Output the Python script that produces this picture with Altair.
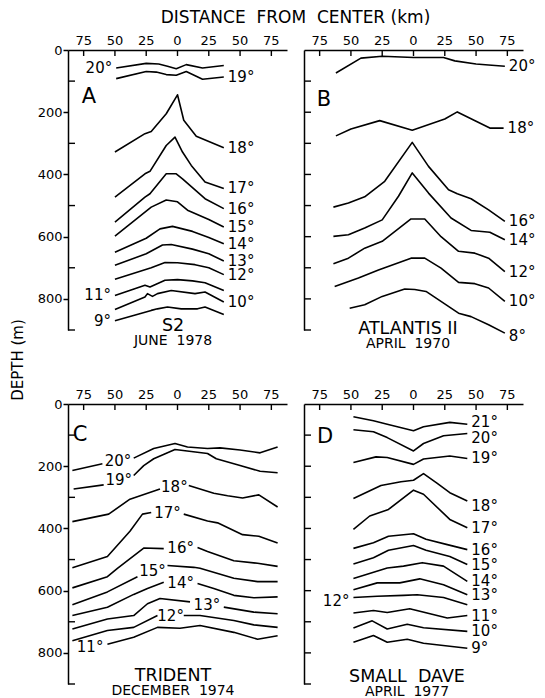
import altair as alt
import pandas as pd

FONT = "DejaVu Sans"
NB = "\u00a0"

# ---------------- axis ticks ----------------
X_TICKS = [-75, -50, -25, 0, 25, 50, 75]
X_TICK_LABELS = ["75", "50", "25", "0", "25", "50", "75"]
Y_LABEL_TICKS = [0, 200, 400, 600, 800]
Y_INNER_TICKS_AC = [100, 300, 500, 700, 900]
Y_INNER_TICKS_BD = [100, 200, 300, 400, 500, 600, 700, 800, 900]

# ---------------- isotherm depths (m) vs distance from center (km) ----------------
A_LINES = {
    "20°": [[(-49, 58), (-25, 43), (-15, 45), (-8, 52), (-1, 60), (7, 47), (20, 58), (37, 50)]],
    "19°": [[(-49, 92), (-25, 69), (-17, 71), (-9, 79), (-1, 81), (7, 69), (20, 94), (37, 87)]],
    "18°": [[(-50, 328), (-26, 269), (-21, 262), (-9, 205), (0, 144), (5, 226), (15, 277), (37, 314)]],
    "17°": [[(-50, 473), (-26, 398), (-22, 390), (-9, 307), (-2, 280), (4, 328), (11, 371), (22, 424), (37, 445)]],
    "16°": [[(-50, 553), (-26, 473), (-22, 462), (-9, 398), (-1, 398), (4, 414), (22, 478), (37, 510)]],
    "15°": [[(-50, 598), (-21, 505), (-9, 482), (0, 488), (8, 515), (25, 545), (37, 569)]],
    "14°": [[(-50, 650), (-25, 605), (-14, 575), (-4, 567), (12, 583), (25, 603), (37, 623)]],
    "13°": [[(-50, 692), (-25, 655), (-12, 627), (-5, 625), (12, 640), (25, 655), (37, 678)]],
    "12°": [[(-50, 737), (-21, 700), (-10, 683), (0, 684), (14, 690), (25, 700), (37, 722)]],
    "11°": [[(-50, 789), (-26, 756), (-22, 762), (-10, 740), (0, 738), (12, 742), (22, 748), (37, 773)]],
    "10°": [[(-50, 834), (-26, 794), (-24, 783), (-20, 792), (-16, 783), (-5, 773), (14, 783), (22, 778), (37, 810)]],
    "9°": [[(-50, 870), (-21, 837), (-16, 832), (-8, 826), (3, 832), (16, 832), (22, 826), (37, 850)]],
}
A_SIDES = {"20°": "left", "19°": "right", "18°": "right", "17°": "right", "16°": "right",
           "15°": "right", "14°": "right", "13°": "right", "12°": "right", "11°": "left",
           "10°": "right", "9°": "left"}
A_SHIFT = {}

B_LINES = {
    "20°": [[(-62, 74), (-42, 26), (-25, 20), (0, 24), (24, 24), (33, 35), (50, 45), (60, 48), (73, 52)]],
    "18°": [[(-62, 276), (-50, 254), (-27, 227), (-1, 258), (25, 222), (35, 199), (61, 251), (72, 251)]],
    "16°": [[(-64, 505), (-52, 492), (-39, 472), (-23, 422), (-1, 297), (12, 374), (28, 449), (35, 462),
             (46, 478), (60, 514), (73, 551)]],
    "14°": [[(-64, 599), (-52, 594), (-39, 572), (-25, 546), (-12, 470), (-1, 395), (12, 460), (30, 540),
             (46, 580), (61, 586), (73, 610)]],
    "12°": [[(-64, 687), (-52, 669), (-39, 637), (-25, 615), (-2, 543), (9, 543), (22, 600), (36, 647),
             (49, 653), (60, 669), (73, 712)]],
    "10°": [[(-63, 760), (-44, 733), (-28, 707), (-2, 669), (9, 669), (22, 701), (36, 747), (49, 751),
             (60, 765), (73, 808)]],
    "8°": [[(-51, 830), (-39, 819), (-25, 792), (-7, 768), (1, 770), (10, 776), (36, 846), (46, 857),
            (60, 883), (73, 910)]],
}
B_SIDES = {k: "right" for k in B_LINES}
B_SHIFT = {"8°": 8}

C_LINES = {
    "20°": [[(-84, 214), (-60, 192)],
            [(-35, 174), (-19, 143), (-2, 127), (8, 138), (24, 143), (34, 141), (50, 148), (66, 157), (80, 138)]],
    "19°": [[(-83, 273), (-59, 260)],
            [(-35, 230), (-27, 198), (-19, 176), (-2, 146), (24, 159), (31, 176), (50, 198), (66, 216), (80, 221)]],
    "18°": [[(-84, 378), (-55, 354), (-38, 306), (-14, 273)],
            [(9, 262), (29, 287), (40, 295), (52, 302), (65, 292), (80, 331)]],
    "17°": [[(-84, 526), (-56, 490), (-38, 409), (-28, 354), (-21, 349)],
            [(5, 354), (24, 376), (32, 382), (52, 420), (65, 425), (80, 447)]],
    "16°": [[(-84, 591), (-56, 555), (-48, 528), (-27, 463), (-11, 465)],
            [(16, 461), (24, 474), (45, 504), (64, 512), (80, 522)]],
    "15°": [[(-84, 645), (-56, 604), (-32, 555)],
            [(-8, 519), (13, 525), (18, 528), (45, 560), (64, 571), (80, 571)]],
    "14°": [[(-84, 680), (-56, 653), (-35, 612), (-24, 593), (-11, 573)],
            [(16, 577), (29, 593), (45, 615), (61, 623), (80, 620)]],
    "13°": [[(-84, 723), (-56, 691), (-35, 680), (-24, 642), (-14, 625), (10, 636)],
            [(37, 653), (61, 669), (80, 674)]],
    "12°": [[(-84, 761), (-56, 728), (-35, 718), (-16, 680)],
            [(5, 680), (18, 680), (45, 696), (61, 710), (80, 718)]],
    "11°": [[(-56, 772), (-35, 750), (-16, 718), (2, 721), (18, 712), (45, 734), (64, 756), (80, 745)]],
}
C_SIDES = {k: "gap" for k in C_LINES}
C_SIDES["11°"] = "left"
C_SHIFT = {"11°": 10}

D_LINES = {
    "21°": [[(-48, 41), (-32, 54), (-21, 65), (0, 86), (8, 73), (29, 59), (43, 65)]],
    "20°": [[(-48, 83), (-32, 89), (-21, 108), (0, 151), (8, 127), (24, 102), (43, 95)]],
    "19°": [[(-48, 188), (-30, 170), (-21, 172), (0, 194), (8, 177), (29, 167), (43, 175)]],
    "18°": [[(-48, 304), (-26, 262), (-10, 250), (0, 245), (8, 224), (19, 255), (29, 285), (43, 312)]],
    "17°": [[(-48, 403), (-35, 360), (-20, 339), (0, 277), (8, 290), (29, 371), (43, 398)]],
    "16°": [[(-48, 464), (-32, 446), (-20, 425), (0, 417), (10, 435), (27, 452), (43, 468)]],
    "15°": [[(-48, 514), (-32, 494), (-20, 470), (0, 455), (10, 470), (29, 490), (43, 516)]],
    "14°": [[(-48, 561), (-21, 527), (-8, 521), (7, 510), (24, 521), (43, 570)]],
    "13°": [[(-48, 597), (-29, 575), (-11, 575), (5, 562), (24, 581), (43, 613)]],
    "12°": [[(-48, 622), (-29, 618), (-8, 615), (3, 613), (24, 622), (43, 645)]],
    "11°": [[(-48, 672), (-32, 664), (-21, 670), (-3, 658), (27, 688), (43, 680)]],
    "10°": [[(-48, 720), (-33, 697), (-21, 723), (-5, 708), (8, 719), (43, 731)]],
    "9°": [[(-48, 766), (-32, 744), (-21, 766), (-5, 756), (8, 769), (43, 785)]],
}
D_SIDES = {k: "right" for k in D_LINES}
D_SIDES["12°"] = "left"
D_SHIFT = {"21°": -8, "20°": 14, "18°": 15, "12°": 12}

# ---------------- layout ----------------
W, H = 219, 280
XDOM = [-87.5, 87.5]
YDOM = [0, 900]
LINE_W = 1.6
ISO_FONT = 15


def build_points(lines):
    rows = []
    for iso, segs in lines.items():
        for s, seg in enumerate(segs):
            for i, (km, d) in enumerate(seg):
                rows.append(dict(iso=iso, seg=f"{iso}_{s}", idx=i, km=km, depth=d))
    return pd.DataFrame(rows)


def build_labels(lines, sides, shift):
    rows = []
    for iso, side in sides.items():
        segs = lines[iso]
        if side == "right":
            km, d = segs[-1][-1]
        elif side == "left":
            km, d = segs[0][0]
        else:
            (k1, d1), (k2, d2) = segs[0][-1], segs[1][0]
            km, d = (k1 + k2) / 2, (d1 + d2) / 2
        rows.append(dict(text=iso, side=side, km=km, depth=d + shift.get(iso, 0)))
    return pd.DataFrame(rows)


def note(text, x, y, size, angle=0):
    return alt.Chart(alt.Data(values=[{}])).mark_text(
        text=text, font=FONT, fontSize=size, align="center", baseline="middle",
        color="black", angle=angle
    ).encode(x=alt.value(x), y=alt.value(y))


def panel(lines, sides, shift, labelled, letter, letter_xy, cap, sub, cap_x, cap_y, extras=()):
    pts = build_points(lines)
    labs = build_labels(lines, sides, shift)
    xaxis = alt.Axis(orient="top", labels=False, ticks=False, domain=True, domainColor="black",
                     domainWidth=1.5, grid=False, title=None)
    if labelled:
        yaxis = alt.Axis(values=Y_LABEL_TICKS, ticks=True, tickSize=5, tickWidth=1.5, tickColor="black",
                         labelPadding=1, domain=True, domainColor="black", domainWidth=1.5, grid=False,
                         title=None, labelFont=FONT, labelFontSize=13, labelColor="black",
                         labelOverlap=False, labelFlush=False)
        inner = Y_INNER_TICKS_AC
    else:
        yaxis = alt.Axis(labels=False, ticks=False, domain=True, domainColor="black", domainWidth=1.5,
                         grid=False, title=None)
        inner = Y_INNER_TICKS_BD
    x = alt.X("km:Q", scale=alt.Scale(domain=XDOM, nice=False, zero=False), axis=xaxis)
    y = alt.Y("depth:Q", scale=alt.Scale(domain=YDOM, reverse=True, nice=False, zero=False), axis=yaxis)

    layers = [alt.Chart(pts).mark_line(color="black", strokeWidth=LINE_W, strokeJoin="round").encode(
        x=x, y=y, detail="seg:N", order="idx:Q")]
    for side, align, dx in [("right", "left", 4), ("left", "right", -4), ("gap", "center", 0)]:
        part = labs[labs.side == side]
        if len(part):
            layers.append(alt.Chart(part).mark_text(
                align=align, dx=dx, baseline="middle", font=FONT, fontSize=ISO_FONT, color="black"
            ).encode(x="km:Q", y="depth:Q", text="text:N"))
    xt = pd.DataFrame({"km": X_TICKS, "lab": X_TICK_LABELS})
    layers.append(alt.Chart(xt).mark_rule(color="black", strokeWidth=1.4).encode(
        x="km:Q", y=alt.value(0), y2=alt.value(6)))
    layers.append(alt.Chart(xt).mark_text(font=FONT, fontSize=13, color="black", align="center",
                                          baseline="middle").encode(
        x="km:Q", y=alt.value(-9), text="lab:N"))
    layers.append(alt.Chart(pd.DataFrame({"depth": inner})).mark_rule(color="black", strokeWidth=1.4).encode(
        y="depth:Q", x=alt.value(0), x2=alt.value(7)))
    layers.append(note(letter, letter_xy[0], letter_xy[1], 21))
    layers.append(note(cap, cap_x, cap_y, 17.5))
    layers.append(note(sub, cap_x, cap_y + 15, 14))
    layers.extend(extras)
    return alt.layer(*layers).properties(width=W, height=H)


pA = panel(A_LINES, A_SIDES, A_SHIFT, True, "A", (21, 47), "S2", f"JUNE{NB}{NB}1978", 105, 276,
           extras=[note(f"DISTANCE{NB}{NB}FROM{NB}{NB}CENTER{NB}(km)", 227.5, -32.5, 17),
                   note("DEPTH (m)", -50, 310, 15, angle=270)])
pB = panel(B_LINES, B_SIDES, B_SHIFT, False, "B", (20, 50), "ATLANTIS II", f"APRIL{NB}{NB}1970", 104, 279)
pC = panel(C_LINES, C_SIDES, C_SHIFT, True, "C", (12, 31), "TRIDENT", f"DECEMBER{NB}{NB}1974", 105, 272)
pD = panel(D_LINES, D_SIDES, D_SHIFT, False, "D", (21, 33), f"SMALL{NB}{NB}DAVE", f"APRIL{NB}{NB}1977", 103, 273)

chart = alt.concat(pA, pB, pC, pD, columns=2, spacing={"row": 74, "column": 17}, bounds="flush").properties(
    padding={"left": 3, "top": 0, "right": 0, "bottom": 0}, background="white"
).configure_view(strokeWidth=0)

chart.save("out.html", embed_options={"renderer": "svg", "actions": False})
